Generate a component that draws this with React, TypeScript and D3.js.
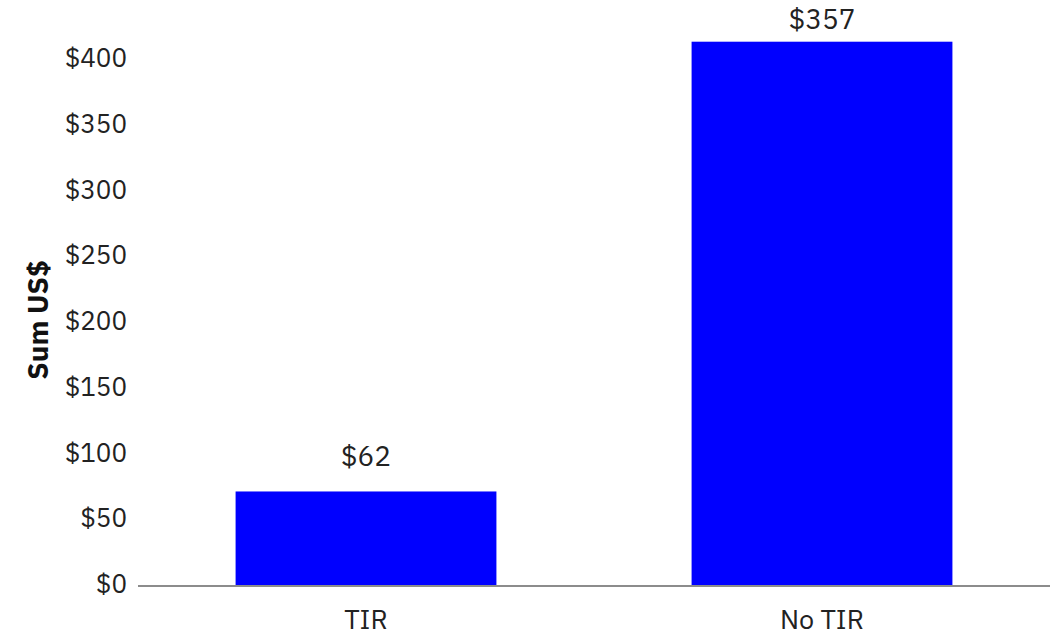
import React from "react";
import * as d3 from "d3";

const categories = ["TIR", "No TIR"];
const values = [62, 357];
const valueLabels = ["$62", "$357"];
const tickValues = [0, 50, 100, 150, 200, 250, 300, 350, 400];
const tickLabels = ["$0", "$50", "$100", "$150", "$200", "$250", "$300", "$350", "$400"];
const yTitle = "Sum US$";

const W = 1052;
const H = 638;
const FONT = "'IBM Plex Sans', 'Open Sans', 'Noto Sans', sans-serif";

export default function App() {
  const left = 138;
  const right = 1050;
  const bottom = 586;
  const top400 = 60;

  const x = d3.scaleBand<string>().domain(categories).range([left, right]).paddingInner(0.428).paddingOuter(0.214);
  const yAxis = d3.scaleLinear().domain([0, 400]).range([bottom, top400]);
  const yBar = d3.scaleLinear().domain([0, 345]).range([bottom, top400]);

  return (
    <div style={{ position: "fixed", left: 0, top: 0 }}>
      <svg width={W} height={H} style={{ display: "block", background: "#fff" }}>
        <g fontFamily={FONT} fill="#222">
          {tickValues.map((t, i) => (
            <text key={t} x={127} y={yAxis(t) - 3} textAnchor="end" dominantBaseline="central" fontSize={26}>
              {tickLabels[i]}
            </text>
          ))}
          <text
            transform={`translate(${37},${320}) rotate(-90)`}
            textAnchor="middle"
            dominantBaseline="central"
            fontSize={28}
            fontWeight="bold"
            fill="#111"
          >
            {yTitle}
          </text>
        </g>
        {categories.map((c, i) => (
          <rect
            key={c}
            x={x(c)}
            y={yBar(values[i])}
            width={x.bandwidth()}
            height={bottom - yBar(values[i])}
            fill="#0000ff"
          />
        ))}
        <line x1={left} x2={right} y1={bottom} y2={bottom} stroke="#8c8c8c" strokeWidth={2} />
        <g fontFamily={FONT} fill="#222" fontSize={28} textAnchor="middle">
          {categories.map((c, i) => (
            <text key={"v" + c} x={(x(c) as number) + x.bandwidth() / 2} y={Math.max(yBar(values[i]) - 25, 29)}>
              {valueLabels[i]}
            </text>
          ))}
          {categories.map((c) => (
            <text key={"c" + c} x={(x(c) as number) + x.bandwidth() / 2} y={629} fontSize={27}>
              {c}
            </text>
          ))}
        </g>
      </svg>
    </div>
  );
}
